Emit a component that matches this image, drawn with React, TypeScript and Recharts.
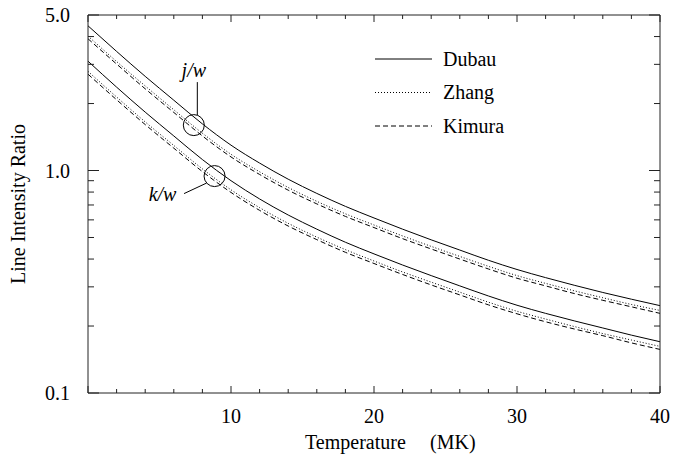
import React from 'react';
import { LineChart, Line, XAxis, YAxis, Legend, ReferenceDot } from 'recharts';

const TEMPS = [0, 2, 4, 6, 8, 10, 12, 14, 16, 18, 20, 22, 24, 26, 28, 30, 32, 34, 36, 38, 40];
const DUBAU_JW = [4.47, 3.43, 2.65, 2.07, 1.62, 1.3, 1.08, 0.914, 0.789, 0.69, 0.612, 0.545, 0.488, 0.439, 0.395, 0.359, 0.33, 0.305, 0.283, 0.264, 0.247];
const ZHANG_JW = [4.02, 3.09, 2.4, 1.875, 1.471, 1.183, 0.987, 0.839, 0.727, 0.639, 0.569, 0.508, 0.456, 0.411, 0.371, 0.337, 0.311, 0.288, 0.268, 0.25, 0.235];
const KIMURA_JW = [3.91, 3.01, 2.33, 1.824, 1.43, 1.151, 0.96, 0.816, 0.708, 0.622, 0.554, 0.494, 0.444, 0.4, 0.361, 0.328, 0.303, 0.28, 0.261, 0.244, 0.228];
const DUBAU_KW = [3.1, 2.37, 1.83, 1.43, 1.12, 0.9, 0.745, 0.631, 0.545, 0.476, 0.422, 0.376, 0.337, 0.303, 0.273, 0.248, 0.228, 0.211, 0.196, 0.182, 0.17];
const ZHANG_KW = [2.79, 2.14, 1.654, 1.296, 1.017, 0.819, 0.681, 0.579, 0.502, 0.441, 0.392, 0.35, 0.315, 0.284, 0.256, 0.233, 0.215, 0.199, 0.185, 0.173, 0.162];
const KIMURA_KW = [2.71, 2.08, 1.609, 1.26, 0.989, 0.797, 0.662, 0.563, 0.489, 0.429, 0.382, 0.341, 0.306, 0.276, 0.249, 0.227, 0.209, 0.194, 0.181, 0.168, 0.157];

const X_TICKS = [0, 2, 4, 6, 8, 10, 12, 14, 16, 18, 20, 22, 24, 26, 28, 30, 32, 34, 36, 38, 40];
const X_LABELS = [10, 20, 30, 40];
const X_MAJOR = [0, 10, 20, 30, 40];
const Y_TICKS = [0.1, 0.2, 0.3, 0.4, 0.5, 0.6, 0.7, 0.8, 0.9, 1, 2, 3, 4, 5];
const Y_LABELS = [0.1, 1, 5];
const Y_MAJOR = [0.1, 1, 5];

const SERIES_NAMES = ['Dubau', 'Zhang', 'Kimura'];
const DASHES: Record<string, string | undefined> = { Dubau: undefined, Zhang: '1 2', Kimura: '5 3' };

const ANNOTATIONS = [
  { label: 'j/w', t: 7.4, v: 1.6 },
  { label: 'k/w', t: 8.85, v: 0.944 },
];

const data = TEMPS.map((t, i) => ({
  t,
  dubauJW: DUBAU_JW[i],
  zhangJW: ZHANG_JW[i],
  kimuraJW: KIMURA_JW[i],
  dubauKW: DUBAU_KW[i],
  zhangKW: ZHANG_KW[i],
  kimuraKW: KIMURA_KW[i],
}));

const FONT = '"Liberation Serif", "Times New Roman", serif';
const INK = '#000';
const AXIS = '#222';

const BottomTick = (p: any) => {
  const { x, y, payload } = p;
  const v = payload.value;
  const len = X_MAJOR.includes(v) ? 7 : 4;
  return (
    <g>
      <line x1={x} x2={x} y1={y} y2={y - len} stroke={AXIS} strokeWidth={1} />
      {X_LABELS.includes(v) && (
        <text x={x} y={y + 30} textAnchor="middle" fontFamily={FONT} fontSize={20} fill={INK}>
          {v}
        </text>
      )}
    </g>
  );
};

const TopTick = (p: any) => {
  const { x, y, payload } = p;
  const v = payload.value;
  const len = X_MAJOR.includes(v) ? 7 : 4;
  return <line x1={x} x2={x} y1={y} y2={y + len} stroke={AXIS} strokeWidth={1} />;
};

const LeftTick = (p: any) => {
  const { x, y, payload } = p;
  const v = payload.value;
  const len = Y_MAJOR.includes(v) ? 11 : 6;
  return (
    <g>
      <line x1={x} x2={x + len} y1={y} y2={y} stroke={AXIS} strokeWidth={1} />
      {Y_LABELS.includes(v) && (
        <text x={x - 18} y={y + 7} textAnchor="end" fontFamily={FONT} fontSize={20} fill={INK}>
          {Number(v).toFixed(1)}
        </text>
      )}
    </g>
  );
};

const RightTick = (p: any) => {
  const { x, y, payload } = p;
  const v = payload.value;
  const len = Y_MAJOR.includes(v) ? 11 : 6;
  return <line x1={x} x2={x - len} y1={y} y2={y} stroke={AXIS} strokeWidth={1} />;
};

const XLabel = (p: any) => {
  const vb = p.viewBox || { x: 88, y: 393, width: 572 };
  return (
    <text y={vb.y + 56} fontFamily={FONT} fontSize={20} fill={INK}>
      <tspan x={vb.x + 217}>Temperature</tspan>
      <tspan x={vb.x + 342}>(MK)</tspan>
    </text>
  );
};

const YLabel = (p: any) => {
  const vb = p.viewBox || { x: 28, y: 15, width: 60, height: 378 };
  const cx = 25;
  const cy = vb.y + vb.height / 2;
  return (
    <text
      x={cx}
      y={cy}
      transform={`rotate(-90 ${cx} ${cy})`}
      textAnchor="middle"
      fontFamily={FONT}
      fontSize={20}
      fill={INK}
    >
      Line Intensity Ratio
    </text>
  );
};

const JWMarker = (p: any) => {
  const { cx, cy } = p;
  return (
    <g>
      <circle cx={cx} cy={cy} r={10.5} fill="none" stroke={INK} strokeWidth={1} />
      <line x1={cx + 3.5} x2={cx + 3.5} y1={cy - 43} y2={cy - 10} stroke={INK} strokeWidth={1} />
      <text x={cx} y={cy - 48} textAnchor="middle" fontFamily={FONT} fontStyle="italic" fontSize={20} fill={INK}>
        {ANNOTATIONS[0].label}
      </text>
    </g>
  );
};

const KWMarker = (p: any) => {
  const { cx, cy } = p;
  return (
    <g>
      <circle cx={cx} cy={cy} r={10.5} fill="none" stroke={INK} strokeWidth={1} />
      <line x1={cx - 30.5} x2={cx - 8} y1={cy + 17.5} y2={cy + 7} stroke={INK} strokeWidth={1} />
      <text x={cx - 52} y={cy + 25} textAnchor="middle" fontFamily={FONT} fontStyle="italic" fontSize={20} fill={INK}>
        {ANNOTATIONS[1].label}
      </text>
    </g>
  );
};

const LegendContent = () => (
  <svg width={200} height={110} style={{ display: 'block' }}>
    {SERIES_NAMES.map((name, i) => {
      const y = 19 + i * 33.5;
      return (
        <g key={name}>
          <line x1={5} x2={62} y1={y} y2={y} stroke={INK} strokeWidth={1} strokeDasharray={DASHES[name]} />
          <text x={73} y={y + 6.5} fontFamily={FONT} fontSize={20} fill={INK}>
            {name}
          </text>
        </g>
      );
    })}
  </svg>
);

export default function App() {
  return (
    <div style={{ position: 'absolute', left: 0, top: 0, width: 675, height: 455, background: '#fff' }}>
      <LineChart width={675} height={455} data={data} margin={{ top: 14, right: 14, bottom: 32, left: 28 }}>
        <XAxis
          dataKey="t"
          type="number"
          domain={[0, 40]}
          ticks={X_TICKS}
          interval={0}
          height={30}
          tickSize={0}
          tickMargin={0}
          tickLine={false}
          tick={<BottomTick />}
          axisLine={{ stroke: AXIS, strokeWidth: 1 }}
          allowDataOverflow
          label={<XLabel />}
        />
        <XAxis
          xAxisId="top"
          orientation="top"
          dataKey="t"
          type="number"
          domain={[0, 40]}
          ticks={X_TICKS}
          interval={0}
          height={1}
          tickSize={0}
          tickMargin={0}
          tickLine={false}
          tick={<TopTick />}
          axisLine={{ stroke: AXIS, strokeWidth: 1 }}
          allowDataOverflow
        />
        <YAxis
          type="number"
          scale="log"
          domain={[0.1, 5]}
          ticks={Y_TICKS}
          interval={0}
          width={60}
          tickSize={0}
          tickMargin={0}
          tickLine={false}
          tick={<LeftTick />}
          axisLine={{ stroke: AXIS, strokeWidth: 1 }}
          allowDataOverflow
          label={<YLabel />}
        />
        <YAxis
          yAxisId="right"
          orientation="right"
          type="number"
          scale="log"
          domain={[0.1, 5]}
          ticks={Y_TICKS}
          interval={0}
          width={1}
          tickSize={0}
          tickMargin={0}
          tickLine={false}
          tick={<RightTick />}
          axisLine={{ stroke: AXIS, strokeWidth: 1 }}
          allowDataOverflow
        />
        <Line dataKey="dubauJW" type="monotone" stroke={INK} strokeWidth={1} dot={false} isAnimationActive={false} />
        <Line dataKey="zhangJW" type="monotone" stroke={INK} strokeWidth={1} strokeDasharray={DASHES.Zhang} dot={false} isAnimationActive={false} />
        <Line dataKey="kimuraJW" type="monotone" stroke={INK} strokeWidth={1} strokeDasharray={DASHES.Kimura} dot={false} isAnimationActive={false} />
        <Line dataKey="dubauKW" type="monotone" stroke={INK} strokeWidth={1} dot={false} isAnimationActive={false} />
        <Line dataKey="zhangKW" type="monotone" stroke={INK} strokeWidth={1} strokeDasharray={DASHES.Zhang} dot={false} isAnimationActive={false} />
        <Line dataKey="kimuraKW" type="monotone" stroke={INK} strokeWidth={1} strokeDasharray={DASHES.Kimura} dot={false} isAnimationActive={false} />
        <Line
          xAxisId="top"
          yAxisId="right"
          dataKey="dubauJW"
          type="monotone"
          stroke="transparent"
          strokeWidth={0}
          dot={false}
          activeDot={false}
          legendType="none"
          isAnimationActive={false}
        />
        <ReferenceDot x={ANNOTATIONS[0].t} y={ANNOTATIONS[0].v} r={10.5} shape={(p: any) => <JWMarker {...p} />} />
        <ReferenceDot x={ANNOTATIONS[1].t} y={ANNOTATIONS[1].v} r={10.5} shape={(p: any) => <KWMarker {...p} />} />
        <Legend
          layout="vertical"
          align="center"
          verticalAlign="middle"
          content={<LegendContent />}
          wrapperStyle={{ position: 'absolute', left: 370, top: 40, width: 200, height: 110 }}
        />
      </LineChart>
    </div>
  );
}
